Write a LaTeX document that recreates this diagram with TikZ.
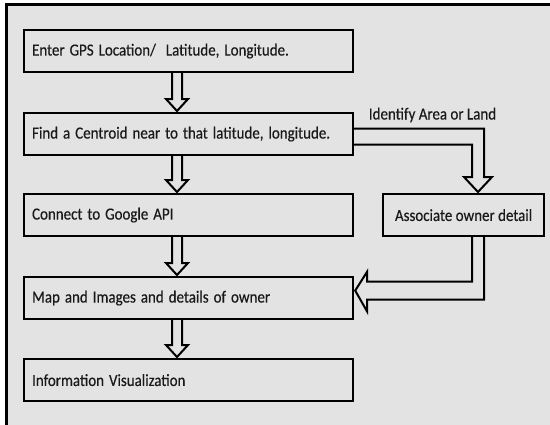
\documentclass[tikz,border=0pt]{standalone}
\usepackage{graphicx}
\usepackage{fontspec}
\setmainfont{Carlito}[FakeBold=0.4]
\usetikzlibrary{calc}
\definecolor{bg}{HTML}{E3E3E3}
\newcommand{\sqz}[1]{\scalebox{0.88}[1]{#1}}
\tikzset{
  flowbox/.style={draw=black, line width=2.2pt, minimum height=42pt, inner xsep=8pt, inner ysep=0pt,
     anchor=north west, font=\fontsize{17}{19}\selectfont, text=black!90},
  leftbox/.style={flowbox, text width=313pt, align=left},
  blk/.style={draw=black, line width=2pt, line join=miter},
  lbltext/.style={font=\fontsize{17}{19}\selectfont, text=black!90, inner sep=0pt}
}
\newcommand{\vblk}[2]{%
  \draw[blk] ($(#1.south west)+(149,0)$) -- ($(#2.north west)+(149,-13)$) -- ++(-6,0)
     -- ($(#2.north west)+(154,-1)$) -- ($(#2.north west)+(165,-13)$) -- ++(-6,0)
     -- ($(#1.south west)+(159,0)$);}
\begin{document}
\begin{tikzpicture}[x=1pt,y=-1pt]
\useasboundingbox (0,0) rectangle (550,424);
\clip (0,0) rectangle (550,424);
\fill[white] (0,0) rectangle (550,424);
\draw[line width=2.5pt, fill=bg] (6.5,4.5) rectangle (580,460);

\node[leftbox] (b1) at (23,29) {\sqz{Enter GPS Location/\ \ Latitude, Longitude.}};
\node[leftbox] (b2) at (23,112) {\sqz{Find a Centroid near to that latitude,\ longitude.}};
\node[leftbox] (b3) at (23,193) {\sqz{Connect to Google API}};
\node[leftbox] (b4) at (23,276) {\sqz{Map and Images and details of owner}};
\node[leftbox] (b5) at (23,358) {\sqz{Information Visualization}};
\node[flowbox, minimum width=161pt, align=center, inner xsep=0pt] (assoc) at (382,193) {\sqz{Associate owner detail}};
\node[lbltext, anchor=base] (lbl) at (432.5,119.5) {\sqz{Identify Area or Land}};

\vblk{b1}{b2}
\vblk{b2}{b3}
\vblk{b3}{b4}
\vblk{b4}{b5}

\draw[blk] ($(b2.east)+(0,-5.5)$) -| ($(assoc.north west)+(102,-16)$) -- ++(8,0)
   -- ($(assoc.north west)+(96,-1)$) -- ($(assoc.north west)+(82,-16)$) -- ++(8,0)
   |- ($(b2.east)+(0,10.5)$);

\draw[blk] ($(assoc.south west)+(90,0)$) |- ($(b4.east)+(13,-16.5)$) -- ($(b4.east)+(13,-26.5)$)
   -- ($(b4.east)+(1,-7.5)$) -- ($(b4.east)+(13,13.5)$) -- ($(b4.east)+(13,1.5)$)
   -| ($(assoc.south west)+(102,0)$);
\end{tikzpicture}
\end{document}
